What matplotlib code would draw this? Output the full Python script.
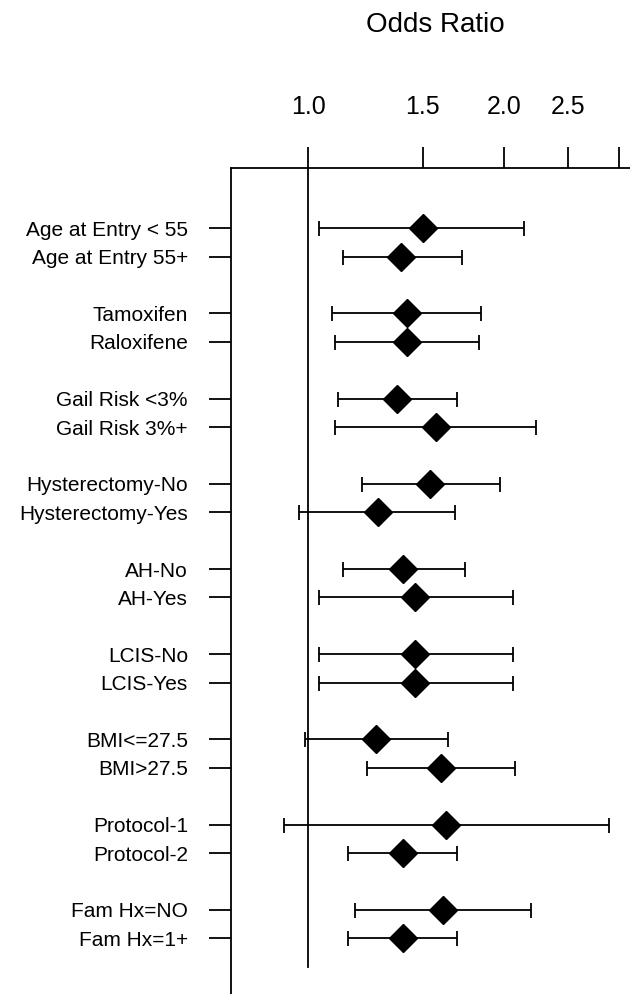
import numpy as np
import matplotlib.pyplot as plt
from matplotlib.ticker import FixedLocator, NullLocator

plt.rcParams['font.family'] = ['Liberation Sans', 'DejaVu Sans']

labels = ['Age at Entry < 55', 'Age at Entry 55+',
          'Tamoxifen', 'Raloxifene',
          'Gail Risk <3%', 'Gail Risk 3%+',
          'Hysterectomy-No', 'Hysterectomy-Yes',
          'AH-No', 'AH-Yes',
          'LCIS-No', 'LCIS-Yes',
          'BMI<=27.5', 'BMI>27.5',
          'Protocol-1', 'Protocol-2',
          'Fam Hx=NO', 'Fam Hx=1+']
odds = np.array([1.50, 1.39, 1.42, 1.42, 1.37, 1.57, 1.54, 1.28, 1.40,
                 1.46, 1.46, 1.46, 1.27, 1.60, 1.63, 1.40, 1.61, 1.40])
lower = np.array([1.04, 1.13, 1.09, 1.10, 1.11, 1.10, 1.21, 0.97, 1.13,
                  1.04, 1.04, 1.04, 0.99, 1.23, 0.92, 1.15, 1.18, 1.15])
upper = np.array([2.14, 1.72, 1.84, 1.83, 1.69, 2.24, 1.97, 1.68, 1.74,
                  2.06, 2.06, 2.06, 1.64, 2.08, 2.89, 1.69, 2.20, 1.69])
xticks = [1.0, 1.5, 2.0, 2.5, 3.0]
xticklabels = ['1.0', '1.5', '2.0', '2.5', '']

# two rows per group, one empty row between groups
ypos = np.array([(i // 2) * 3 + i % 2 for i in range(len(labels))])

fig = plt.figure(figsize=(6.3, 9.94), dpi=100)
ax = fig.add_axes([231 / 630, 0, 399 / 630, 826 / 994])

ax.set_xscale('log')
ax.set_xlim(0.762, 3.116)
ax.set_ylim(26.96, -2.12)

lw = 1.3
ax.plot([1, 1], [-2.12, 26.0], color='black', lw=lw, zorder=1)
ax.errorbar(odds, ypos, xerr=[odds - lower, upper - odds], fmt='none',
            ecolor='black', elinewidth=lw, capsize=5.4, capthick=lw, zorder=2)
ax.plot(odds, ypos, 'D', ms=14.5, color='black', mec='black', zorder=3)

for side in ['right', 'bottom']:
    ax.spines[side].set_visible(False)
for side in ['top', 'left']:
    ax.spines[side].set_linewidth(lw)

ax.xaxis.set_ticks_position('top')
ax.xaxis.set_major_locator(FixedLocator(xticks))
ax.xaxis.set_minor_locator(NullLocator())
ax.set_xticklabels(xticklabels)
ax.tick_params(axis='x', direction='out', length=15, width=lw, pad=20, labelsize=18)

ax.set_yticks(ypos)
ax.set_yticklabels(labels)
ax.tick_params(axis='y', direction='out', length=16, width=lw, pad=15, labelsize=15)

fig.text(435 / 630, 1 - 25 / 994, 'Odds Ratio', ha='center', va='center', fontsize=20)

fig.savefig('out.png', dpi=100)
